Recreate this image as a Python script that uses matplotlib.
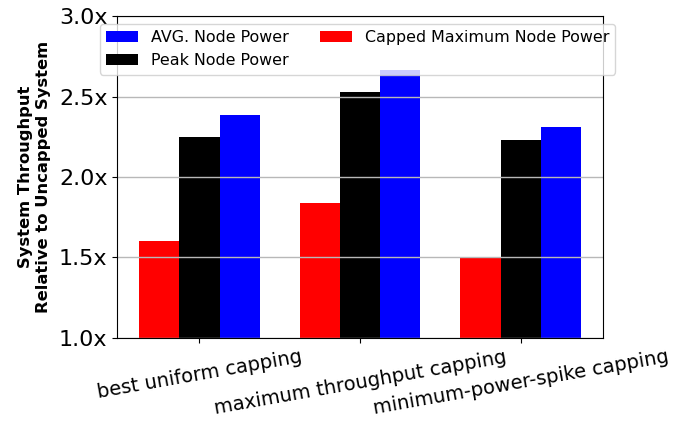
import matplotlib
matplotlib.use("Agg")
import matplotlib.pyplot as plt
import numpy as np

categories = ["best uniform capping", "maximum throughput capping", "minimum-power-spike capping"]
capped_max = [1.60, 1.84, 1.50]
peak = [2.25, 2.53, 2.23]
avg = [2.385, 2.665, 2.31]
yticks = [1.0, 1.5, 2.0, 2.5, 3.0]
ytick_labels = ["1.0x", "1.5x", "2.0x", "2.5x", "3.0x"]

fig = plt.figure(figsize=(6.73, 4.26), dpi=100)
ax = fig.add_axes([0.174, 0.2066, 0.722, 0.7558])

x = np.arange(len(categories))
w = 0.25
b_cap = ax.bar(x - w, capped_max, w, color="red", label="Capped Maximum Node Power")
b_peak = ax.bar(x, peak, w, color="black", label="Peak Node Power")
b_avg = ax.bar(x + w, avg, w, color="blue", label="AVG. Node Power")

ax.set_ylim(1.0, 3.0)
ax.set_yticks(yticks)
ax.set_yticklabels(ytick_labels, fontsize=16)
ax.set_xticks(x)
ax.set_xticklabels(categories, fontsize=14, rotation=10)
ax.yaxis.grid(True, color="#b8b8b8", linewidth=1)
ax.set_ylabel("System Throughput\nRelative to Uncapped System", fontsize=11.8,
              fontweight="bold", labelpad=6)

ax.legend(handles=[b_avg, b_peak, b_cap], ncol=2, fontsize=11.4,
          loc="upper left", bbox_to_anchor=(-0.035, 0.975), borderaxespad=0)

fig.savefig("out.png", dpi=100)
